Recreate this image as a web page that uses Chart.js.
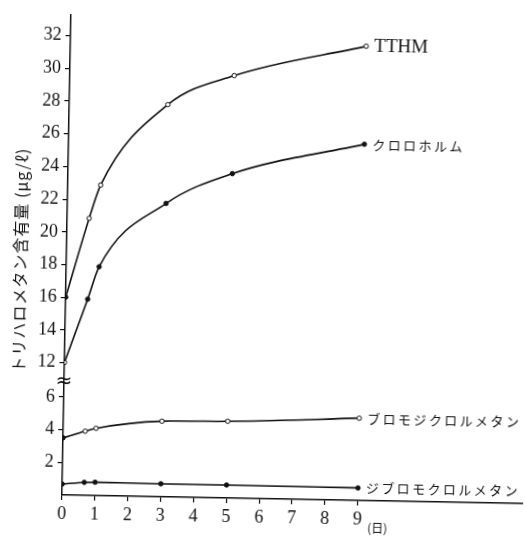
<!DOCTYPE html>
<html>
<head>
<meta charset="utf-8">
<script src="https://cdn.jsdelivr.net/npm/chart.js@4.4.0/dist/chart.umd.min.js"></script>
<style>
    html, body { margin: 0; padding: 0; background: #fff; }
    /* the scanned figure is turned about 1 degree clockwise */
    #wrap { width: 526px; height: 536px; transform-origin: 62px 495px; transform: rotate(1.07deg); }
</style>
</head>
<body>
<div id="wrap"><canvas id="myChart" width="526" height="536"></canvas></div>
<script>
// days of sampling
const days = [0, 0.67, 1, 3, 5, 9];

// trihalomethane content (µg/ℓ)
const tthm = [16, 20.85, 22.9, 27.9, 29.75, 31.7];
const chloroform = [12, 15.9, 17.9, 21.85, 23.75, 25.7];
const bromodichloromethane = [3.5, 3.93, 4.12, 4.63, 4.7, 5.04];
const dibromochloromethane = [0.67, 0.8, 0.82, 0.8, 0.8, 0.77];

const seriesNames = ["TTHM", "クロロホルム", "ブロモジクロルメタン", "ジブロモクロルメタン"];

const xTickValues = [0, 1, 2, 3, 4, 5, 6, 7, 8, 9];
const yTickValues = [2, 4, 6, 12, 14, 16, 18, 20, 22, 24, 26, 28, 30, 32];

const yTitle = "トリハロメタン含有量 (μg/ℓ)";
const xUnit = "(日)";

// the y axis is broken between 6 and 12
const BREAK_SHIFT = 3.89;
const toAxis = (v) => (v > 6 ? v - BREAK_SHIFT : v);

const points = (values) => values.map((v, i) => ({x: days[i], y: toAxis(v)}));

const BLACK = "#111";
const WHITE = "#fff";

function series(values, fills) {
    return {
        data: points(values),
        borderColor: BLACK,
        borderWidth: 1.6,
        cubicInterpolationMode: "monotone",
        pointRadius: 2.2,
        pointBorderWidth: 1,
        pointBorderColor: BLACK,
        pointBackgroundColor: fills,
        pointHoverRadius: 2.2
    };
}

const open = (first) => days.map((d, i) => (i === 0 ? first : WHITE));
const filled = (first) => days.map((d, i) => (i === 0 ? first : BLACK));

const seriesValues = [tthm, chloroform, bromodichloromethane, dibromochloromethane];

const annotations = {
    id: "annotations",
    afterDraw(chart) {
        const ctx = chart.ctx;
        const xs = chart.scales.x;
        const ys = chart.scales.y;
        ctx.save();
        ctx.fillStyle = BLACK;

        // labels at the end of each curve
        seriesValues.forEach((values, k) => {
            const last = values.length - 1;
            const px = xs.getPixelForValue(days[last]) + 8;
            const py = ys.getPixelForValue(toAxis(values[last]));
            ctx.textBaseline = "middle";
            ctx.textAlign = "left";
            if (k === 0) {
                ctx.font = '19px "Liberation Serif"';
                ctx.fillText(seriesNames[k], px, py);
            } else {
                ctx.font = '13px "Noto Sans CJK JP"';
                Array.from(seriesNames[k]).forEach((ch, i) => {
                    ctx.fillText(ch, px + i * 15.4, py);
                });
            }
        });

        // unit of the x axis
        ctx.font = '12px "Noto Sans CJK JP"';
        ctx.textAlign = "left";
        ctx.fillText(xUnit, xs.getPixelForValue(9) + 10, xs.bottom - 14);

        // axis break mark
        ctx.font = '20px "DejaVu Sans"';
        ctx.textAlign = "center";
        ctx.fillText("≈", xs.left, ys.getPixelForValue(6.9));

        // y axis title
        ctx.translate(16, 261);
        ctx.rotate(-Math.PI / 2);
        ctx.font = '16px "Noto Sans CJK JP"';
        ctx.textAlign = "center";
        ctx.letterSpacing = "1px";
        ctx.fillText(yTitle, 0, 0);
        ctx.restore();
    }
};

new Chart(document.getElementById("myChart").getContext("2d"), {
    type: "line",
    data: {
        datasets: [
            series(tthm, open(BLACK)),
            series(chloroform, filled(WHITE)),
            series(bromodichloromethane, open(BLACK)),
            series(dibromochloromethane, filled(BLACK))
        ]
    },
    options: {
        responsive: false,
        animation: false,
        events: [],
        layout: {padding: {top: 13, right: 0, bottom: 0, left: 0}},
        plugins: {
            legend: {display: false},
            tooltip: {enabled: false}
        },
        scales: {
            x: {
                type: "linear",
                min: 0,
                max: 14.02,
                border: {display: true, color: BLACK, width: 1.5},
                grid: {drawOnChartArea: false, drawTicks: true, tickLength: 5, color: BLACK, lineWidth: 1.2},
                ticks: {
                    autoSkip: false,
                    maxRotation: 0,
                    padding: 3,
                    color: BLACK,
                    font: {family: "Liberation Serif", size: 18}
                },
                afterBuildTicks: (scale) => {
                    scale.ticks = xTickValues.map((v) => ({value: v}));
                },
                afterFit: (scale) => {
                    scale.height = 41;
                }
            },
            y: {
                min: 0,
                max: 29.39,
                border: {display: true, color: BLACK, width: 1.5},
                grid: {drawOnChartArea: false, drawTicks: true, tickLength: 5, color: BLACK, lineWidth: 1.2},
                ticks: {
                    autoSkip: false,
                    padding: 4,
                    color: BLACK,
                    font: {family: "Liberation Serif", size: 18},
                    callback: (value, index) => yTickValues[index]
                },
                afterBuildTicks: (scale) => {
                    scale.ticks = yTickValues.map((v) => ({value: toAxis(v)}));
                },
                afterFit: (scale) => {
                    scale.width = 62;
                }
            }
        }
    },
    plugins: [annotations]
});
</script>
</body>
</html>
